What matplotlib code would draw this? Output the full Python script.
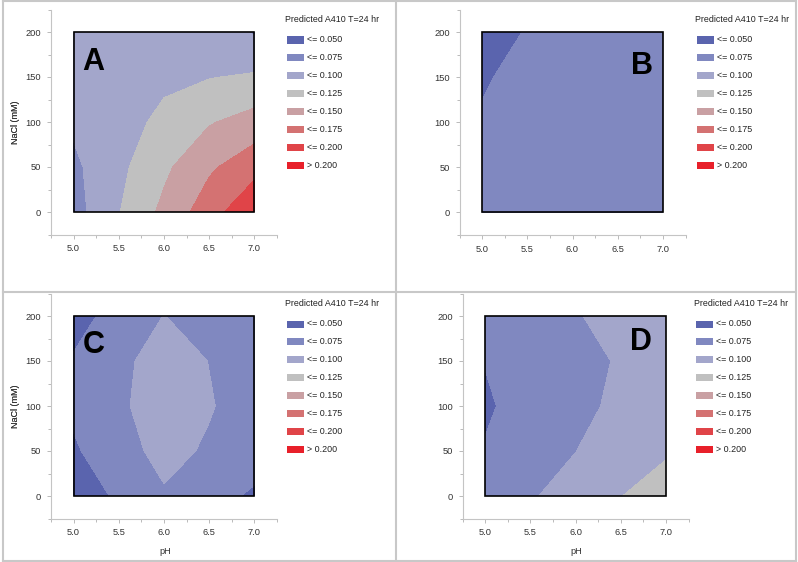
import numpy as np
import matplotlib
matplotlib.use("Agg")
import matplotlib.pyplot as plt
from matplotlib.patches import Rectangle
from matplotlib.lines import Line2D
from matplotlib.ticker import MultipleLocator, FormatStrFormatter

plt.rcParams["font.family"] = ["Liberation Sans", "DejaVu Sans"]

W, H = 798, 562

# grid
ph = [5.0, 5.5, 6.0, 6.5, 7.0]
nacl = [0, 50, 100, 150, 200]

# rows = NaCl, cols = pH
a410_A = [[0.065, 0.099, 0.131, 0.164, 0.197],
          [0.070, 0.094, 0.120, 0.146, 0.166],
          [0.079, 0.088, 0.107, 0.123, 0.135],
          [0.080, 0.085, 0.094, 0.099, 0.103],
          [0.081, 0.082, 0.081, 0.085, 0.073]]
a410_B = [[0.062, 0.064, 0.066, 0.066, 0.065],
          [0.058, 0.062, 0.064, 0.066, 0.066],
          [0.052, 0.059, 0.063, 0.065, 0.066],
          [0.048, 0.056, 0.060, 0.063, 0.064],
          [0.043, 0.051, 0.057, 0.060, 0.062]]
a410_C = [[0.035, 0.054, 0.072, 0.062, 0.045],
          [0.047, 0.0648, 0.083, 0.0716, 0.066],
          [0.0545, 0.069, 0.093, 0.077, 0.062],
          [0.052, 0.0666, 0.090, 0.0744, 0.062],
          [0.042, 0.058, 0.0755, 0.063, 0.060]]
a410_D = [[0.060, 0.072, 0.088, 0.0995, 0.112],
          [0.052, 0.062, 0.0745, 0.095, 0.097],
          [0.046, 0.062, 0.070, 0.079, 0.090],
          [0.051, 0.060, 0.068, 0.077, 0.088],
          [0.058, 0.064, 0.073, 0.085, 0.085]]

levels = [0.0, 0.05, 0.075, 0.1, 0.125, 0.15, 0.175, 0.2, 1.0]
level_labels = ["<= 0.050", "<= 0.075", "<= 0.100", "<= 0.125",
                "<= 0.150", "<= 0.175", "<= 0.200", "> 0.200"]
colors = ["#5a64ae", "#8088c0", "#a3a6cb", "#c0c0c0",
          "#c9a0a3", "#d47272", "#e04448", "#e8202a"]

panels = [
    # name, data, axes left/top in px, letter pos, legend offset, xlabel
    ("A", a410_A, 51, 9.5, (5.1, 183), (0, 0), False),
    ("B", a410_B, 459.5, 10, (6.65, 180), (410, 0), False),
    ("C", a410_C, 51, 293.5, (5.1, 184), (0, 284), True),
    ("D", a410_D, 462.5, 293.5, (6.6, 188), (409, 284), True),
]

fig = plt.figure(figsize=(W / 100, H / 100), dpi=100)


def fx(x):
    return x / W


def fy(y):
    return 1 - y / H


for name, z, left, top, letter_pos, (ox, oy), show_x in panels:
    ax = fig.add_axes([fx(left), fy(top + 225), 226 / W, 225 / H])
    ax.contourf(ph, nacl, np.array(z), levels=levels, colors=colors)
    ax.add_patch(Rectangle((5.0, 0), 2.0, 200, fill=False, ec="black", lw=1.2, zorder=5))
    ax.text(letter_pos[0], letter_pos[1], name, fontsize=22, fontweight="bold",
            ha="left", va="top", zorder=6)
    ax.set_xlim(4.75, 7.25)
    ax.set_ylim(-25, 225)
    for s in ["top", "right"]:
        ax.spines[s].set_visible(False)
    for s in ["left", "bottom"]:
        ax.spines[s].set_color("#c4c4c4")
        ax.spines[s].set_linewidth(0.8)
    ax.xaxis.set_major_locator(MultipleLocator(0.5))
    ax.xaxis.set_minor_locator(MultipleLocator(0.25))
    ax.yaxis.set_major_locator(MultipleLocator(50))
    ax.yaxis.set_minor_locator(MultipleLocator(25))
    ax.xaxis.set_major_formatter(FormatStrFormatter("%.1f"))
    ax.set_xticks([5.0, 5.5, 6.0, 6.5, 7.0])
    ax.set_yticks([0, 50, 100, 150, 200])
    ax.tick_params(which="both", color="#b0b0b0", width=0.6, labelsize=6.7,
                   labelcolor="#333333")
    ax.tick_params(which="major", length=3, pad=4)
    ax.tick_params(which="minor", length=2)
    ax.set_ylabel("NaCl (mM)", fontsize=6.5, color="#333333", fontweight="normal")
    ax.yaxis.set_label_coords((20 - left) / 226, 0.5)
    if show_x:
        ax.set_xlabel("pH", fontsize=6.7, color="#333333")
        ax.xaxis.set_label_coords(0.504, -0.128)

    # legend
    fig.text(fx(ox + 285), fy(oy + 19), "Predicted A410 T=24 hr", fontsize=6.4,
             color="#222222", ha="left", va="center")
    for i, (lab, c) in enumerate(zip(level_labels, colors)):
        yc = oy + 40 + 17.9 * i
        fig.add_artist(Rectangle((fx(ox + 287), fy(yc + 3.5)), 17 / W, 7 / H,
                                 transform=fig.transFigure, fc=c, ec="none"))
        fig.text(fx(ox + 307), fy(yc), lab, fontsize=6.4, color="#222222",
                 ha="left", va="center")

# panel borders
border = "#c8c8c8"
lines = [((3, 1), (796, 1)), ((3, 561), (796, 561)), ((3, 1), (3, 561)),
         ((796, 1), (796, 561)), ((396, 1), (396, 561)), ((3, 292), (796, 292))]
for (x0, y0), (x1, y1) in lines:
    fig.add_artist(Line2D([fx(x0), fx(x1)], [fy(y0), fy(y1)], transform=fig.transFigure,
                          color=border, lw=1.5))

fig.savefig("out.png", dpi=100)
